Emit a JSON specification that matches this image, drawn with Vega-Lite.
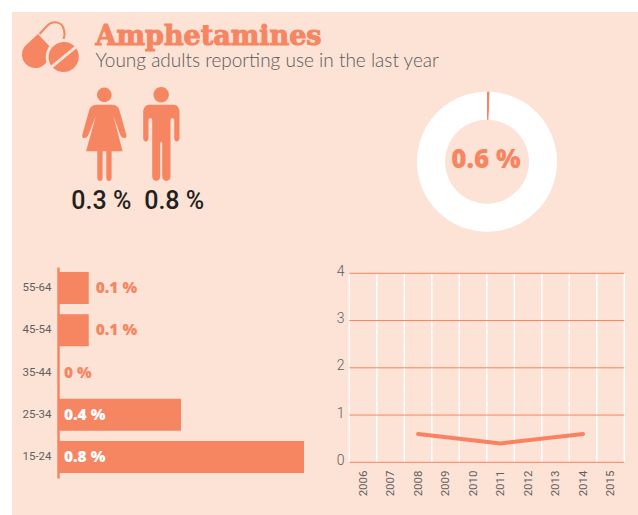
{
"$schema":"https://vega.github.io/schema/vega-lite/v6.json",
"width":626,"height":503,"autosize":"none",
"padding":{"left":12,"top":12,"right":0,"bottom":0},
"background":"#ffffff",
"view":{"fill":"#FDE2D6","stroke":null},
"datasets":{
"header":[{"line":"title","text":"Amphetamines"},{"line":"subtitle","text":"Young adults reporting use in the last year"}],
"icon":[{"icon":"pills"}],
"gender":[{"gender":"Women","value":0.3,"label":"0.3 %"},{"gender":"Men","value":0.8,"label":"0.8 %"}],
"donut":[{"panel":"overall","segment":"use","share":0.6,"label":"0.6 %"},{"panel":"overall","segment":"rest","share":99.4,"label":"0.6 %"}],
"bars":[{"age":"55-64","value":0.1,"label":"0.1 %"},{"age":"45-54","value":0.1,"label":"0.1 %"},{"age":"35-44","value":0,"label":"0 %"},{"age":"25-34","value":0.4,"label":"0.4 %"},{"age":"15-24","value":0.8,"label":"0.8 %"}],
"edges":[{"edge":2006},{"edge":2007},{"edge":2008},{"edge":2009},{"edge":2010},{"edge":2011},{"edge":2012},{"edge":2013},{"edge":2014},{"edge":2015},{"edge":2016}],
"levels":[{"level":0},{"level":1},{"level":2},{"level":3},{"level":4}],
"trend":[{"year":"2008","value":0.6},{"year":"2011","value":0.4},{"year":"2014","value":0.6}]
},
"resolve":{"scale":{"x":"independent","y":"independent","color":"independent","theta":"independent"},"axis":{"x":"independent","y":"independent"}},
"layer":[
{"data":{"name":"header"},
 "encoding":{"x":{"datum":0,"type":"quantitative","axis":null,"scale":{"domain":[0,1],"range":[83.5,84.5]}},
  "y":{"field":"line","type":"nominal","axis":null,"scale":{"type":"point","domain":["title","subtitle"],"range":[33,55],"padding":0}},
  "text":{"field":"text"}},
 "layer":[
  {"transform":[{"filter":"datum.line==='title'"}],"mark":{"type":"text","align":"left","baseline":"alphabetic","font":"DejaVu Serif","fontWeight":"bold","fontSize":27,"color":"#F68562","stroke":"#F68562","strokeWidth":1}},
  {"transform":[{"filter":"datum.line==='subtitle'"}],"mark":{"type":"text","align":"left","baseline":"alphabetic","font":"Lato","fontWeight":300,"fontSize":19,"color":"#5A5A5A"}}
 ]},
{"data":{"name":"icon"},
 "encoding":{"x":{"field":"icon","type":"nominal","axis":null,"scale":{"type":"point","range":[40,40],"padding":0}},
  "y":{"field":"icon","type":"nominal","axis":null,"scale":{"type":"point","range":[35,35],"padding":0}}},
 "layer":[
  {"mark":{"type":"point","filled":true,"size":4,"color":"#F68562","opacity":1,"shape":"M-26.4,-1.4 L-14,-13 L3.7,6 L-7.6,17.4 A13.3,13.3 0 0 1 -26.4,-1.4Z"}},
  {"mark":{"type":"point","filled":false,"size":4,"color":"#F68562","opacity":1,"strokeWidth":2,"shape":"M-12.5,-13 L-5,-21 C0,-26.5 10,-26.5 12,-17 C13,-13 12.5,-10 11.5,-7.7"}},
  {"mark":{"type":"point","filled":true,"size":4,"color":"#FDE2D6","opacity":1,"shape":"M-6.3,10 A18,18 0 1 1 29.7,10 A18,18 0 1 1 -6.3,10Z"}},
  {"mark":{"type":"point","filled":true,"size":4,"color":"#F68562","opacity":1,"shape":"M22.5,-0.8 A15.3,15.3 0 0 0 -0.9,18.6Z M24.3,1.4 A15.3,15.3 0 0 1 0.9,20.8Z"}}
 ]},
{"data":{"name":"gender"},
 "encoding":{"x":{"field":"gender","type":"nominal","axis":null,"scale":{"type":"point","domain":["Women","Men"],"range":[92.3,149.2],"padding":0}}},
 "layer":[
  {"transform":[{"filter":"datum.gender==='Women'"}],"encoding":{"y":{"datum":"icon","type":"nominal","axis":null,"scale":{"type":"point","domain":["icon","label"],"range":[121,188],"padding":0}}},
   "mark":{"type":"point","filled":true,"size":4,"color":"#F68562","opacity":1,"shape":"M-7.3,-38.3 A7.3,7.3 0 1 1 7.3,-38.3 A7.3,7.3 0 1 1 -7.3,-38.3Z M-7.7,-28.3 L7.7,-28.3 C11,-28.3 14,-26.5 15,-23.3 L22,1.7 C22.8,5 20,5.5 19,4.7 C17.5,4.5 16.8,3.5 16.3,2.7 L9,-17.3 L18.3,18.3 L7.3,18.3 L7.3,45 C7.3,49 2,49 2,45 L2,18.3 L-1.7,18.3 L-1.7,45 C-1.7,49 -7,49 -7,45 L-7,18.3 L-18.3,18.3 L-8.3,-17.3 L-16.3,2.7 C-16.8,3.5 -17.5,4.5 -19,4.7 C-20,5.5 -22.8,5 -22,1.7 L-15,-23.3 C-14,-26.5 -11,-28.3 -7.7,-28.3Z"}},
  {"transform":[{"filter":"datum.gender==='Men'"}],"encoding":{"y":{"datum":"icon","type":"nominal","axis":null,"scale":{"type":"point","domain":["icon","label"],"range":[121,188],"padding":0}}},
   "mark":{"type":"point","filled":true,"size":4,"color":"#F68562","opacity":1,"shape":"M-7.7,-38.3 A7.7,7.7 0 1 1 7.7,-38.3 A7.7,7.7 0 1 1 -7.7,-38.3Z M-12,-28.3 L12.5,-28.3 C16,-28.3 18.3,-25 18.3,-21 L18.3,5 C18.3,9.5 13,9.5 13,5 L13,-13 C13,-15.5 9.3,-15.5 9.3,-13 L9.3,43 C9.3,49.5 1,49.5 1,43 L1,9.3 L-1,9.3 L-1,43 C-1,49.5 -9,49.5 -9,43 L-9,-13 C-9,-15.5 -12.7,-15.5 -12.7,-13 L-12.7,5 C-12.7,9.5 -18,9.5 -18,5 L-18,-21 C-18,-25 -15.5,-28.3 -12,-28.3Z"}},
  {"transform":[{"filter":"datum.gender==='Women'"}],"encoding":{"y":{"datum":"label","type":"nominal","axis":null,"scale":{"type":"point","domain":["icon","label"],"range":[121,188],"padding":0}},"text":{"field":"label"}},
   "mark":{"type":"text","font":"Roboto","fontWeight":500,"fontSize":25,"color":"#231F20","baseline":"middle","dx":-3,"dy":1}},
  {"transform":[{"filter":"datum.gender==='Men'"}],"encoding":{"y":{"datum":"label","type":"nominal","axis":null,"scale":{"type":"point","domain":["icon","label"],"range":[121,188],"padding":0}},"text":{"field":"label"}},
   "mark":{"type":"text","font":"Roboto","fontWeight":500,"fontSize":25,"color":"#231F20","baseline":"middle","dx":13,"dy":1}}
 ]},
{"data":{"name":"donut"},
 "encoding":{"x":{"field":"panel","type":"nominal","axis":null,"scale":{"type":"point","range":[475,475],"padding":0}},
  "y":{"field":"panel","type":"nominal","axis":null,"scale":{"type":"point","range":[149.7,149.7],"padding":0}}},
 "layer":[
  {"mark":{"type":"arc","innerRadius":42,"outerRadius":70},
   "encoding":{"theta":{"field":"share","type":"quantitative","stack":true},
    "color":{"field":"segment","type":"nominal","legend":null,"sort":["use","rest"],"scale":{"domain":["use","rest"],"range":["#F68562","#FFFFFF"]}},
    "order":{"field":"share","type":"quantitative"}}},
  {"transform":[{"filter":"datum.segment==='use'"}],"mark":{"type":"text","font":"Open Sans","fontWeight":800,"fontSize":26,"color":"#F68562","dx":-1,"dy":-2,"baseline":"middle"},"encoding":{"text":{"field":"label"}}}
 ]},
{"data":{"name":"bars"},
 "encoding":{"y":{"field":"age","type":"nominal","title":null,
   "scale":{"type":"band","domain":["55-64","45-54","35-44","25-34","15-24"],"range":[255,466],"paddingInner":0.242,"paddingOuter":0.121},
   "axis":{"orient":"left","offset":-46,"ticks":false,"domain":true,"domainColor":"#F68562","domainWidth":2.5,"labelFont":"Roboto","labelFontSize":11.5,"labelColor":"#5F5F5F","labelPadding":7,"grid":false,"labelAngle":0}}},
 "layer":[
  {"mark":{"type":"bar","color":"#F68562"},
   "encoding":{"x":{"field":"value","type":"quantitative","axis":null,"scale":{"domain":[0,0.8],"range":[46,292]}}}},
  {"transform":[{"filter":"datum.value===0.1"}],
   "mark":{"type":"text","align":"left","baseline":"middle","dx":7,"font":"Open Sans","fontWeight":800,"fontSize":15.5,"color":"#F68562"},
   "encoding":{"x":{"field":"value","type":"quantitative","axis":null,"scale":{"domain":[0,0.8],"range":[46,292]}},"text":{"field":"label"}}},
  {"transform":[{"filter":"datum.value===0"}],
   "mark":{"type":"text","align":"left","baseline":"middle","dx":6,"font":"Open Sans","fontWeight":800,"fontSize":15.5,"color":"#F68562"},
   "encoding":{"x":{"field":"value","type":"quantitative","axis":null,"scale":{"domain":[0,0.8],"range":[46,292]}},"text":{"field":"label"}}},
  {"transform":[{"filter":"datum.value>=0.4"}],
   "mark":{"type":"text","align":"left","baseline":"middle","dx":6,"font":"Open Sans","fontWeight":800,"fontSize":15.5,"color":"#FFFFFF"},
   "encoding":{"x":{"datum":0,"type":"quantitative","axis":null,"scale":{"domain":[0,0.8],"range":[46,292]}},"text":{"field":"label"}}}
 ]},
{"layer":[
  {"data":{"name":"edges"},"mark":{"type":"rule","color":"#FFFFFF","strokeWidth":1.5},
   "encoding":{"x":{"field":"edge","type":"quantitative","axis":null,"scale":{"domain":[2006,2016],"range":[337.3,612.3]}},
    "y":{"datum":0,"type":"quantitative","axis":null,"scale":{"domain":[0,4],"range":[450.3,261.3],"nice":false}},"y2":{"datum":4}}},
  {"data":{"name":"levels"},"mark":{"type":"rule","color":"#F68562","strokeWidth":1},
   "encoding":{"x":{"datum":2006,"type":"quantitative","axis":null,"scale":{"domain":[2006,2016],"range":[337.3,612.3]}},"x2":{"datum":2016},
    "y":{"field":"level","type":"quantitative","axis":null,"scale":{"domain":[0,4],"range":[450.3,261.3],"nice":false}}}}
 ]},
{"data":{"name":"trend"},
 "mark":{"type":"line","color":"#F98263","strokeWidth":4,"strokeCap":"round"},
 "encoding":{"x":{"field":"year","type":"ordinal","title":null,
   "scale":{"type":"point","domain":["2006","2007","2008","2009","2010","2011","2012","2013","2014","2015"],"range":[337.3,612.3],"padding":0.5},
   "axis":{"orient":"bottom","offset":-53,"ticks":false,"domain":false,"grid":false,"labelAngle":-90,"labelFont":"Roboto","labelFontSize":11.5,"labelColor":"#5F5F5F","labelPadding":8}},
  "y":{"field":"value","type":"quantitative","title":null,
   "scale":{"domain":[0,4],"range":[450.3,261.3],"nice":false},
   "axis":{"orient":"left","offset":-337,"values":[0,1,2,3,4],"format":"d","ticks":false,"domain":false,"grid":false,"labelFont":"Roboto","labelFontWeight":300,"labelFontSize":14,"labelColor":"#5F5F5F","labelPadding":5,"labelOffset":-2}}}}
]
}
